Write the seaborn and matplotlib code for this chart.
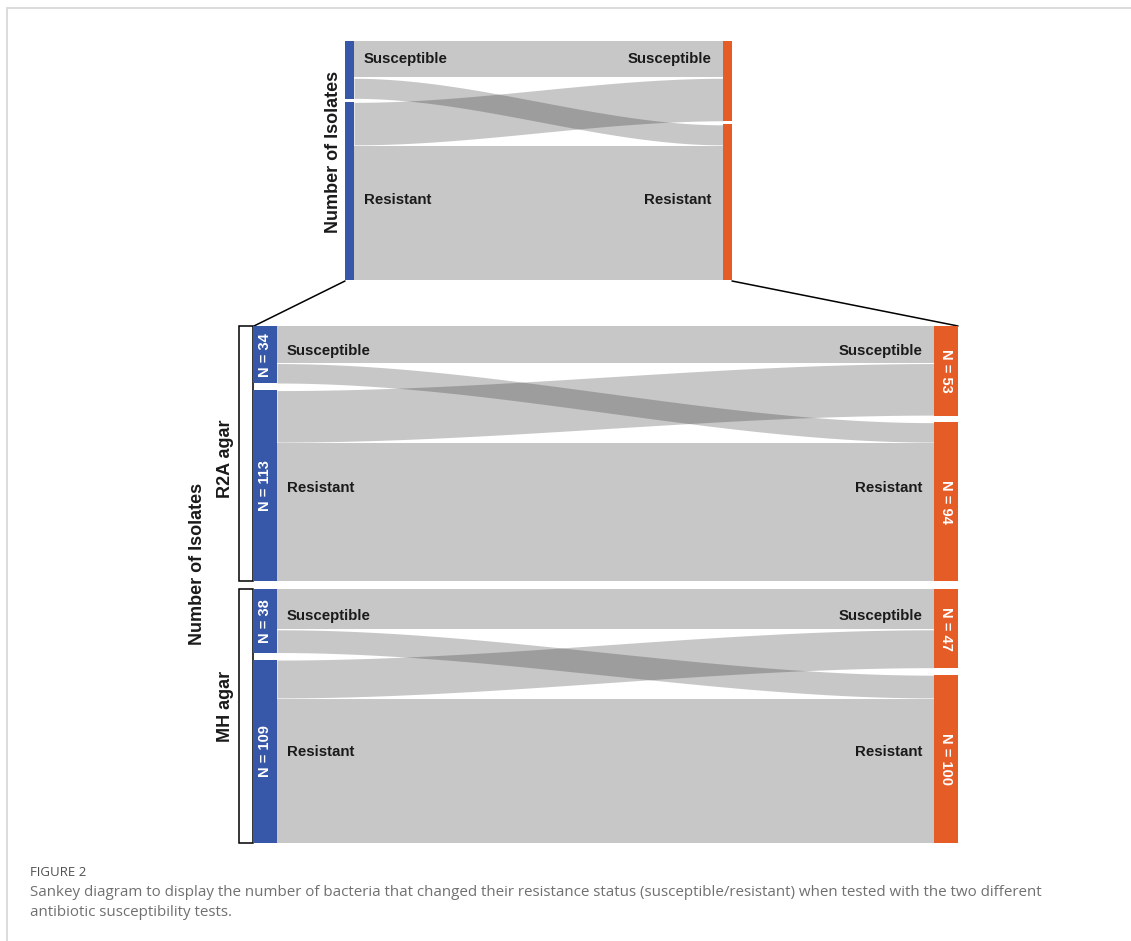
import numpy as np
import matplotlib
matplotlib.use("Agg")
import matplotlib.pyplot as plt
from matplotlib.patches import Rectangle
from matplotlib.lines import Line2D
import seaborn as sns

# ---------------- data ----------------
status = ["Susceptible", "Resistant"]
r2a_left_n = [34, 113]
r2a_right_n = [53, 94]
mh_left_n = [38, 109]
mh_right_n = [47, 100]
# flows[source][target]: rows = first test (S, R), cols = second test (S, R)
r2a_flows = [[22, 12],
             [31, 82]]
mh_flows = [[24, 14],
            [23, 86]]
overall_flows = (np.array(r2a_flows) + np.array(mh_flows)).tolist()
panel_titles = ["R2A agar", "MH agar"]
axis_title = "Number of Isolates"
caption_head = "FIGURE 2"
caption_lines = [
    "Sankey diagram to display the number of bacteria that changed their resistance status (susceptible/resistant) when tested with the two different",
    "antibiotic susceptibility tests.",
]

# ---------------- style ----------------
sns.set_theme(style="white")
plt.rcParams['font.family'] = ['Liberation Sans', 'DejaVu Sans']
node_colors = sns.color_palette(["#3757A8", "#E65C27"])
flow_color = "#282828"
flow_alpha = 0.26
text_dark = "#1a1a1a"

W, H = 1131, 941
fig = plt.figure(figsize=(W / 100, H / 100), dpi=100)
fig.patch.set_facecolor("white")

# overlay axes in pixel coordinates for frame, brackets, connectors and captions
ov = fig.add_axes([0, 0, 1, 1])
ov.set_xlim(0, W)
ov.set_ylim(H, 0)
ov.set_axis_off()
ov.patch.set_visible(False)


def draw_panel(rect_px, flows, barw, gap, show_n, label_dy=(0.0, 0.0)):
    x0, y0, x1, y1 = rect_px
    flows = np.array(flows)
    left_n = flows.sum(axis=1)
    right_n = flows.sum(axis=0)
    ax = fig.add_axes([x0 / W, 1 - y1 / H, (x1 - x0) / W, (y1 - y0) / H])
    ax.patch.set_visible(False)
    ax.set_axis_off()
    width = x1 - x0
    total = left_n.sum() + gap
    ax.set_xlim(0, width)
    ax.set_ylim(total, 0)
    px_per_unit = (y1 - y0) / total
    pad = 0.4 / px_per_unit

    lstart = np.concatenate([[0], np.cumsum(left_n)[:-1]]) + np.arange(len(left_n)) * gap
    rstart = np.concatenate([[0], np.cumsum(right_n)[:-1]]) + np.arange(len(right_n)) * gap

    # flows
    xs = np.linspace(barw, width - barw, 400)
    t = (xs - barw) / (width - 2 * barw)
    f = t * t * (3 - 2 * t)
    for i in range(2):
        for j in range(2):
            v = flows[i, j]
            s0 = lstart[i] + flows[i, :j].sum()
            t0 = rstart[j] + flows[:i, j].sum()
            top = (s0 + pad) + (t0 - s0) * f
            bot = (s0 + v - pad) + (t0 - s0) * f
            ax.fill_between(xs, top, bot, color=flow_color, alpha=flow_alpha, linewidth=0)

    # nodes
    ax.bar([barw / 2] * 2, left_n, bottom=lstart, width=barw, color=node_colors[0], linewidth=0, align="center")
    ax.bar([width - barw / 2] * 2, right_n, bottom=rstart, width=barw, color=node_colors[1], linewidth=0, align="center")

    for i in range(2):
        yc = lstart[i] + left_n[i] / 2 + label_dy[i] / px_per_unit
        ax.text(barw + 10, yc, status[i], ha="left", va="center", fontsize=10.8,
                fontweight="bold", color=text_dark)
        ax.text(width - barw - 12, yc, status[i], ha="right", va="center", fontsize=10.8,
                fontweight="bold", color=text_dark)
        if show_n:
            ax.text(barw / 2, lstart[i] + left_n[i] / 2, f"N = {left_n[i]}", rotation=90,
                    ha="center", va="center", fontsize=10.5, fontweight="bold", color="white")
            ax.text(width - barw / 2, rstart[i] + right_n[i] / 2, f"N = {right_n[i]}", rotation=-90,
                    ha="center", va="center", fontsize=10.5, fontweight="bold", color="white")
    return ax


# top overview panel
draw_panel((345, 41, 732, 280), overall_flows, barw=9, gap=4, show_n=False, label_dy=(-11, 9))
# R2A and MH panels
draw_panel((253, 326, 958, 581), r2a_flows, barw=24, gap=4, show_n=True, label_dy=(-4, 2))
draw_panel((253, 589, 958, 843), mh_flows, barw=24, gap=4, show_n=True, label_dy=(-5, 1))

# brackets
for (ya, yb) in [(326, 581), (589, 843)]:
    ov.add_patch(Rectangle((239, ya), 14, yb - ya, fill=False, edgecolor="black", linewidth=1.1))
# connectors
ov.add_line(Line2D([345, 254], [281, 326], color="black", linewidth=1.1))
ov.add_line(Line2D([732, 958], [281, 326], color="black", linewidth=1.1))

# axis titles
ov.text(333, 152, axis_title, rotation=90, ha="center", va="center", fontsize=13,
        fontweight="bold", color=text_dark)
ov.text(197, 564, axis_title, rotation=90, ha="center", va="center", fontsize=13,
        fontweight="bold", color=text_dark)
ov.text(225, 459, panel_titles[0], rotation=90, ha="center", va="center", fontsize=13,
        fontweight="bold", color=text_dark)
ov.text(226, 706, panel_titles[1], rotation=90, ha="center", va="center", fontsize=13,
        fontweight="bold", color=text_dark)

# frame
ov.add_line(Line2D([7, W], [8, 8], color="#d9d9d9", linewidth=1.3))
ov.add_line(Line2D([7, 7], [8, H], color="#d9d9d9", linewidth=1.3))

# caption
cap_x = 30
ov.text(cap_x, 876, caption_head, ha="left", va="baseline", fontsize=9.5, color="#505050",
        family=["Open Sans", "DejaVu Sans"])
cap1 = ov.text(cap_x, 896, caption_lines[0], ha="left", va="baseline", fontsize=10,
               color="#707070", family=["Open Sans", "DejaVu Sans"])
fig.canvas.draw()
bb = cap1.get_window_extent()
scale = (1045 - cap_x) / bb.width
cap1.set_fontsize(10 * scale)
ov.text(cap_x, 916, caption_lines[1], ha="left", va="baseline", fontsize=10 * scale,
        color="#707070", family=["Open Sans", "DejaVu Sans"])

fig.savefig("out.png", dpi=100, facecolor="white")
